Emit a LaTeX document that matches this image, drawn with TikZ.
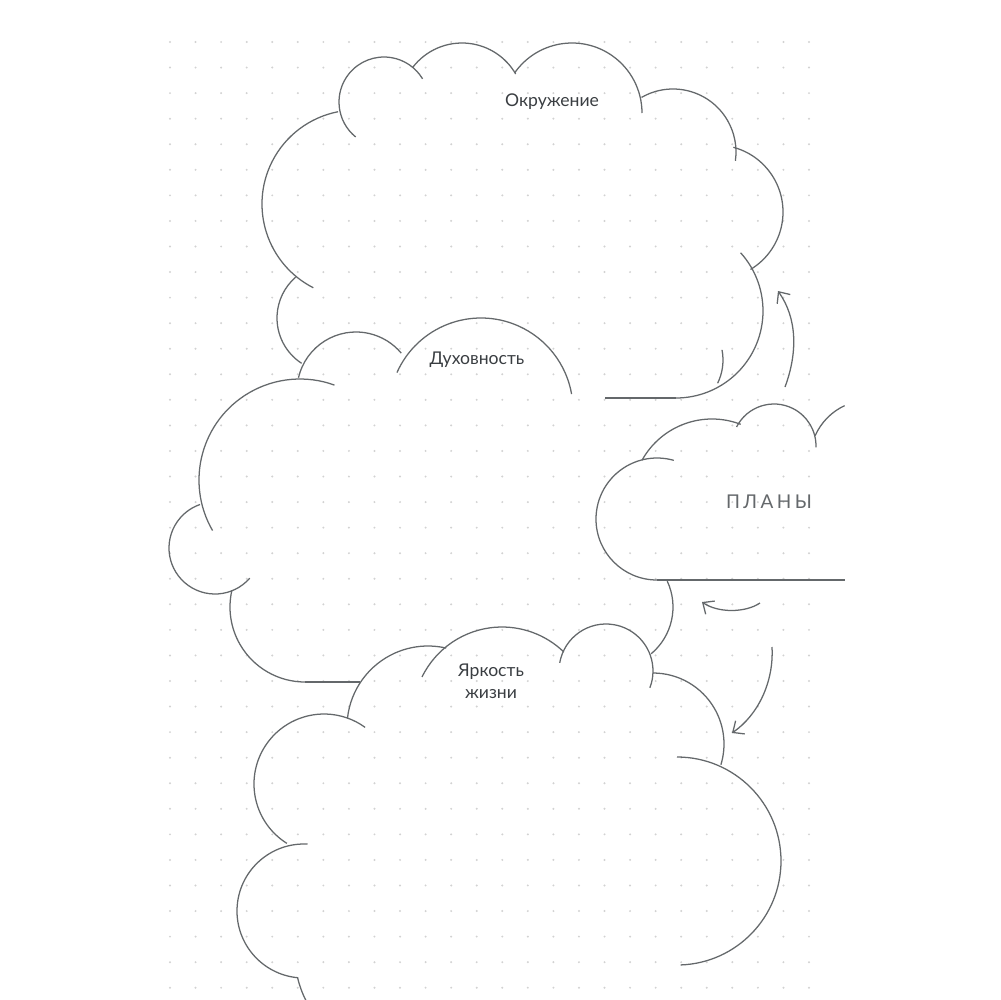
\documentclass[tikz,border=0pt]{standalone}
\usepackage{fontspec}
\setmainfont{Lato}
\newfontfamily\planfont[LetterSpace=18]{Lato}
\usetikzlibrary{arrows.meta}
\definecolor{inkgray}{RGB}{100,104,107}
\definecolor{dotgray}{RGB}{210,210,210}
\definecolor{textgray}{RGB}{58,62,66}

\begin{document}
\begin{tikzpicture}[x=0.1mm, y=0.1mm, yscale=-1,
    cloudline/.style = {draw = inkgray, line width = 0.36pt},
    cloudlabel/.style = {font = \fontsize{5}{6.3}\selectfont,
                         text = textgray,
                         inner sep = 0pt},
    planlabel/.style = {font = \planfont\fontsize{5.4}{6}\selectfont,
                        text = inkgray,
                        inner sep = 0pt},
    planarrow/.style = {draw = inkgray, line width = 0.36pt,
                        -{Straight Barb[length=0.9mm, width=1.6mm]}}]

  \useasboundingbox (0,0) rectangle (1000,1000);
  \fill[white] (0,0) rectangle (1000,1000);

  % dotted page
  \foreach \i in {0,...,25}
    \foreach \j in {0,...,37}
      \fill[dotgray] (170+25.56*\i, 42+25.56*\j) circle[radius=0.11mm];

  % cloud: Окружение
  \foreach \cx/\cy/\r/\a/\b in {356/204/94/117/259, 384/102/45/129/329,
      462/105/62/217/330, 572/113/70/215/360, 673/152/63/240/368,
      716/212/67/-75/59, 676/311/87/-42/90, 331/318/54/123/229,
      670/360/53/-11/26}
    \draw[cloudline] (\cx,\cy) ++(\a:\r*0.1mm)
      arc[start angle=\a, end angle=\b, radius=\r*0.1mm];
  \draw[cloudline] (605,398) -- (676,398);

  % cloud: Духовность
  \foreach \cx/\cy/\r/\a/\b in {356/391/59/193/320, 481/410/92/204/350,
      300/480/101/150/290, 215/548/46/41/251, 305/607/75/90/193,
      612/607/61/-25/50}
    \draw[cloudline] (\cx,\cy) ++(\a:\r*0.1mm)
      arc[start angle=\a, end angle=\b, radius=\r*0.1mm];
  \draw[cloudline] (305,682) -- (360,682);

  % cloud: Яркость жизни
  \foreach \cx/\cy/\r/\a/\b in {428/727/81/186/283, 324/784/70/122/306,
      502/716/89/206/314, 304/911/67/95/273, 395/955/100/167/153,
      606/671/47/190/381, 653/744/71/270/377, 677/861/104/270/448}
    \draw[cloudline] (\cx,\cy) ++(\a:\r*0.1mm)
      arc[start angle=\a, end angle=\b, radius=\r*0.1mm];

  % cloud: ПЛАНЫ
  \foreach \cx/\cy/\r/\a/\b in {657/519/61/90/286, 712/499/80/209/291,
      774/446/42/207/362, 870/460/60/204/245}
    \draw[cloudline] (\cx,\cy) ++(\a:\r*0.1mm)
      arc[start angle=\a, end angle=\b, radius=\r*0.1mm];
  \draw[cloudline] (657,580) -- (845,580);

  \node[cloudlabel] (env) at (552,102) {Окружение};
  \node[cloudlabel] (spirit) at (477,360) {Духовность};
  \node[cloudlabel, align=center] (bright) at (491,681) {Яркость\\жизни};
  \node[planlabel] (plans) at (769,502) {ПЛАНЫ};

  \coordinate (up-from) at (785,387);
  \coordinate (up-to) at (778,291);
  \coordinate (left-from) at (760,603);
  \coordinate (left-to) at (702,602);
  \coordinate (down-from) at (772,647);
  \coordinate (down-to) at (732,733);

  \draw[planarrow] (up-from) .. controls (798,352) and (797,318) .. (up-to);
  \draw[planarrow] (left-from) .. controls (745,613) and (718,613) .. (left-to);
  \draw[planarrow] (down-from) .. controls (774,682) and (758,715) .. (down-to);

\end{tikzpicture}
\end{document}
